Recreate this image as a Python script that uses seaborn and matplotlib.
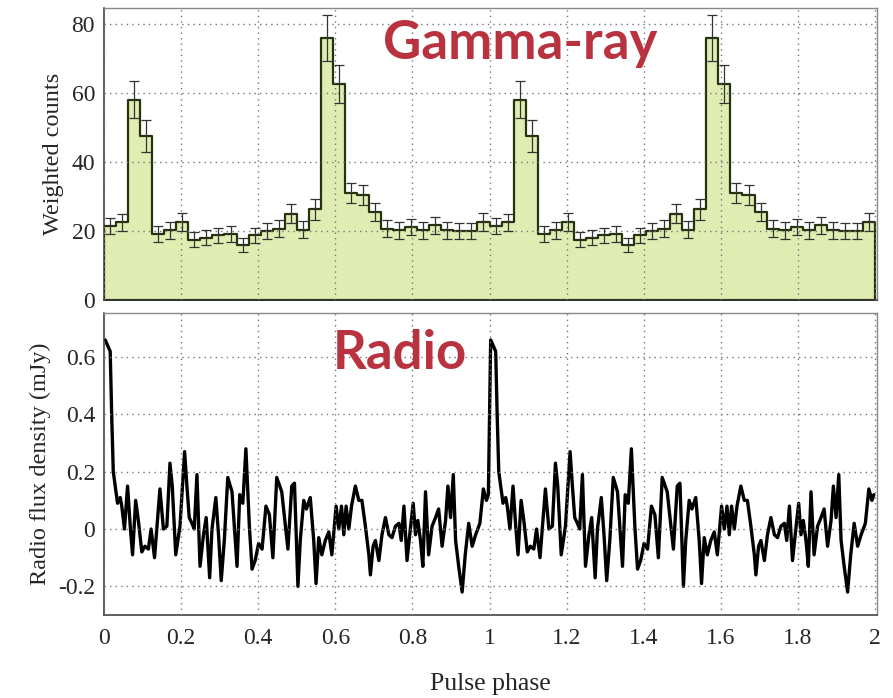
import numpy as np
import pandas as pd
import matplotlib
matplotlib.use("Agg")
import matplotlib.pyplot as plt
import seaborn as sns

# ---------------- data ----------------
# Gamma-ray light curve: 32 bins per rotation, shown for two rotations
gamma_counts = [21.5, 22.5, 58, 47.5, 19, 20.2, 22.6, 17.5, 18, 18.7, 19, 16,
                18.7, 20, 20.7, 25, 20.4, 26.3, 76, 62.5, 31, 30.4, 25.5, 20.7,
                20.2, 21.2, 20.2, 21.6, 20.2, 20, 20, 22.6]
gamma_errors = [2.4, 2.5, 5.4, 4.7, 2.3, 2.4, 2.5, 2.2, 2.2, 2.3, 2.3, 2.1,
                2.3, 2.4, 2.4, 2.7, 2.4, 3.0, 6.7, 5.5, 3.0, 3.0, 2.6, 2.4,
                2.4, 2.4, 2.4, 2.5, 2.4, 2.4, 2.4, 2.5]
n_bins = 32

# Radio profile (one rotation), phase and flux density in mJy
radio_phase = [0.003, 0.016, 0.020, 0.024, 0.029, 0.035, 0.042, 0.046, 0.053, 0.061,
               0.068, 0.074, 0.082, 0.089, 0.098, 0.106, 0.115, 0.122, 0.131, 0.145,
               0.154, 0.163, 0.171, 0.177, 0.186, 0.197, 0.209, 0.215, 0.221, 0.228,
               0.234, 0.241, 0.249, 0.258, 0.265, 0.274, 0.280, 0.290, 0.297, 0.304,
               0.312, 0.321, 0.332, 0.345, 0.352, 0.360, 0.368, 0.377, 0.384, 0.392,
               0.401, 0.410, 0.420, 0.429, 0.438, 0.448, 0.461, 0.477, 0.487, 0.494,
               0.503, 0.509, 0.518, 0.525, 0.535, 0.544, 0.550, 0.557, 0.565, 0.574,
               0.583, 0.591, 0.602, 0.609, 0.616, 0.622, 0.628, 0.635, 0.642, 0.652,
               0.661, 0.669, 0.678, 0.687, 0.691, 0.698, 0.704, 0.713, 0.721, 0.730,
               0.739, 0.747, 0.756, 0.765, 0.771, 0.778, 0.786, 0.793, 0.802, 0.808,
               0.814, 0.821, 0.827, 0.834, 0.842, 0.851, 0.860, 0.868, 0.877, 0.886,
               0.892, 0.899, 0.906, 0.912, 0.920, 0.929, 0.937, 0.946, 0.955, 0.964,
               0.975, 0.984, 0.992, 0.997]
radio_flux = [0.66, 0.62, 0.39, 0.20, 0.15, 0.09, 0.11, 0.08, 0.00, 0.15,
              0.01, -0.09, 0.10, 0.03, -0.08, -0.06, -0.07, 0.00, -0.10, 0.14,
              0.00, 0.01, 0.23, 0.15, -0.09, 0.01, 0.27, 0.15, 0.04, 0.02,
              0.00, 0.19, -0.13, -0.02, 0.04, -0.17, 0.00, 0.11, -0.02, -0.18,
              -0.04, 0.18, 0.13, -0.13, 0.12, 0.09, 0.28, 0.01, -0.14, -0.11,
              -0.05, -0.07, 0.08, 0.05, -0.10, 0.18, 0.13, -0.07, 0.15, 0.16,
              -0.20, -0.04, 0.10, 0.07, 0.11, -0.04, -0.19, -0.03, -0.09, -0.04,
              -0.01, -0.09, 0.08, 0.00, 0.08, -0.02, 0.08, 0.00, 0.08, 0.15,
              0.10, 0.10, 0.01, -0.09, -0.16, -0.06, -0.04, -0.11, -0.02, 0.04,
              -0.02, -0.03, 0.01, 0.02, -0.04, 0.08, -0.11, -0.02, 0.09, -0.02,
              0.03, -0.04, -0.13, 0.13, -0.09, 0.01, 0.04, 0.07, -0.06, 0.03,
              0.15, 0.04, 0.19, -0.04, -0.13, -0.22, -0.09, 0.02, -0.06, -0.02,
              0.02, 0.14, 0.10, 0.12]

x_ticks = [0, 0.2, 0.4, 0.6, 0.8, 1, 1.2, 1.4, 1.6, 1.8, 2]
x_tick_labels = ["0", "0.2", "0.4", "0.6", "0.8", "1", "1.2", "1.4", "1.6", "1.8", "2"]
gamma_ticks = [0, 20, 40, 60, 80]
radio_ticks = [-0.2, 0, 0.2, 0.4, 0.6]
radio_tick_labels = ["-0.2", "0", "0.2", "0.4", "0.6"]

# ---------------- build tables ----------------
centers = (np.arange(n_bins) + 0.5) / n_bins
gamma_df = pd.DataFrame({
    "phase": np.concatenate([centers, centers + 1]),
    "counts": np.concatenate([gamma_counts, gamma_counts]),
    "err": np.concatenate([gamma_errors, gamma_errors]),
})
radio_df = pd.DataFrame({
    "phase": np.concatenate([radio_phase, np.array(radio_phase) + 1]),
    "flux": np.concatenate([radio_flux, radio_flux]),
})

# ---------------- style ----------------
sns.set_theme(style="white")
plt.rcParams["font.family"] = ["Liberation Serif", "DejaVu Serif"]
plt.rcParams["axes.unicode_minus"] = False

fig = plt.figure(figsize=(8.93, 6.98), dpi=100)
ax1 = fig.add_axes([0.1165, 0.5702, 0.8655, 0.4183])
ax2 = fig.add_axes([0.1165, 0.1189, 0.8655, 0.4327])

fill_col = "#e0edb2"
edge_col = "#26330f"

sns.histplot(data=gamma_df, x="phase", weights="counts", bins=2 * n_bins,
             binrange=(0, 2), element="step", fill=True, color=fill_col,
             edgecolor=edge_col, linewidth=1.6, alpha=1, ax=ax1)
ax1.errorbar(gamma_df["phase"], gamma_df["counts"], yerr=gamma_df["err"],
             fmt="none", ecolor="#333333", elinewidth=0.9, capsize=3.8,
             capthick=0.9, zorder=3)

sns.lineplot(data=radio_df, x="phase", y="flux", color="black", linewidth=2.4,
             ax=ax2, estimator=None, sort=False)

# ---------------- axes formatting ----------------
for ax in (ax1, ax2):
    ax.set_xlim(0, 2.005)
    ax.set_xticks(x_ticks)
    ax.grid(True, linestyle=(0, (1, 3)), color="#777777", linewidth=1.0)
    ax.set_axisbelow(False)
    ax.tick_params(direction="in", length=5, color="#444444", labelsize=17,
                   top=False, right=False)
    ax.tick_params(axis="y", pad=6.5)
    ax.tick_params(axis="x", pad=9.5)
    for side in ("left", "bottom"):
        ax.spines[side].set_color("#333333")
        ax.spines[side].set_linewidth(1.1)
    for side in ("top", "right"):
        ax.spines[side].set_color("#888888")
        ax.spines[side].set_linewidth(1.0)
        ax.spines[side].set_linestyle((0, (2, 1)))
    ax.set_facecolor("white")

ax1.set_ylim(0, 84.6)
ax1.set_yticks(gamma_ticks)
ax1.set_yticklabels([str(t) for t in gamma_ticks])
ax1.set_xticklabels([])
ax1.set_xlabel("")
ax1.set_ylabel("Weighted counts", fontsize=17.5, labelpad=5)

ax2.set_ylim(-0.3, 0.754)
ax2.set_yticks(radio_ticks)
ax2.set_yticklabels(radio_tick_labels)
ax2.set_xticklabels(x_tick_labels)
ax2.set_xlabel("Pulse phase", fontsize=18.5, labelpad=17)
ax2.set_ylabel("Radio flux density (mJy)", fontsize=17.5, labelpad=5)

red = "#b8333f"
fig.text(0.429, 0.938, "Gamma-ray", fontsize=38, fontweight="bold", color=red,
         family=["Lato", "DejaVu Sans"], va="center", ha="left")
fig.text(0.373, 0.494, "Radio", fontsize=38, fontweight="bold", color=red,
         family=["Lato", "DejaVu Sans"], va="center", ha="left")

fig.savefig("out.png", dpi=100, facecolor="white")
